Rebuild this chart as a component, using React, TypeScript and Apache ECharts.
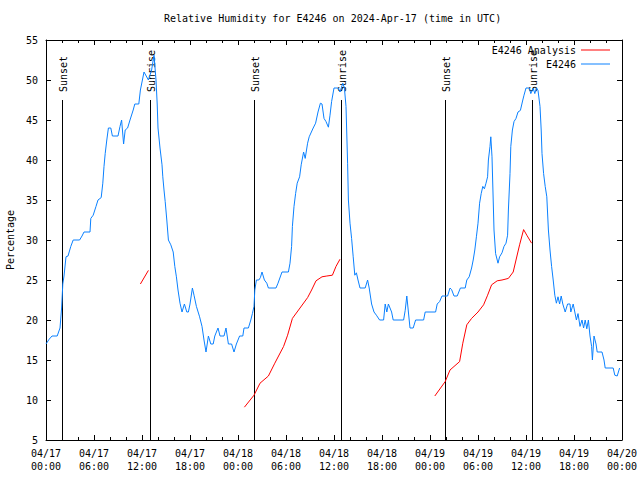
import React, { useEffect, useRef } from 'react';
import * as echarts from 'echarts';

// Hours since 04/17 00:00 UTC
const blueHours = [0, 0.4, 0.75, 1.4, 1.75, 1.95, 2.1, 2.25, 2.5, 2.75, 3.1, 3.4, 4.2, 4.5, 4.75, 5.5, 5.6, 5.9, 6.25, 6.5, 6.9, 7.1, 7.25, 7.4, 7.6, 7.8, 8.1, 8.3, 9.0, 9.25, 9.45, 9.7, 9.9, 10.2, 10.5, 10.9, 11.1, 11.6, 11.8, 12.25, 12.8, 13.2, 13.5, 13.75, 13.9, 14.0, 14.25, 14.5, 14.6, 14.75, 14.9, 15.1, 15.3, 15.6, 15.9, 16.1, 16.3, 16.5, 16.75, 17.0, 17.3, 17.6, 17.8, 18.0, 18.3, 18.5, 18.8, 19.2, 19.5, 19.75, 20.0, 20.3, 20.6, 20.9, 21.1, 21.5, 21.75, 22.25, 22.5, 22.8, 23.2, 23.5, 23.8, 24.2, 24.6, 24.75, 25.3, 25.6, 25.8, 26.0, 26.1, 26.3, 26.6, 26.8, 27.0, 27.3, 27.6, 27.8, 28.75, 29.0, 29.5, 30.3, 30.5, 30.7, 30.8, 31.0, 31.2, 31.4, 31.7, 31.9, 32.2, 32.4, 32.7, 32.9, 33.4, 33.7, 34.0, 34.3, 34.5, 34.75, 35.0, 35.3, 35.5, 35.7, 36.0, 36.5, 36.75, 37.1, 37.3, 37.5, 37.7, 37.8, 38.0, 38.2, 38.4, 38.6, 38.8, 39.0, 39.25, 39.9, 40.2, 40.4, 40.7, 41.0, 41.3, 41.7, 42.2, 42.4, 42.6, 42.8, 43.2, 43.4, 44.7, 44.9, 45.1, 45.3, 45.5, 45.9, 46.2, 47.2, 47.4, 48.7, 48.9, 49.2, 49.5, 50.2, 50.5, 50.7, 51.0, 51.4, 51.8, 52.4, 52.6, 52.9, 53.2, 53.4, 53.6, 53.8, 54.0, 54.2, 54.4, 54.6, 54.8, 55.0, 55.2, 55.3, 55.5, 55.6, 55.75, 55.9, 56.0, 56.2, 56.5, 56.7, 57.0, 57.25, 57.5, 57.7, 57.8, 58.0, 58.1, 58.3, 58.5, 58.75, 59.0, 59.3, 59.6, 59.75, 60.0, 60.4, 60.6, 60.9, 61.1, 61.3, 61.5, 61.75, 61.9, 62.0, 62.2, 62.4, 62.6, 62.8, 63.0, 63.2, 63.4, 63.6, 63.8, 64.0, 64.2, 64.4, 64.6, 64.9, 65.2, 65.5, 65.6, 65.9, 66.1, 66.3, 66.5, 66.75, 67.0, 67.2, 67.4, 67.6, 67.8, 68.0, 68.2, 68.3, 68.5, 68.75, 68.9, 69.5, 69.75, 69.9, 70.9, 71.1, 71.4, 71.7];
const blueValues = [17, 17.6, 18, 18, 19, 21.5, 24.5, 25.5, 27.9, 28, 29.2, 30, 30, 30.5, 31, 31, 32.7, 33.1, 34.2, 35, 35.3, 37.1, 39.2, 40.8, 42.5, 44, 44, 43, 43, 44.2, 45, 42, 43.75, 44, 45, 46.25, 47, 47, 48.75, 51, 50, 51.25, 53.1, 50, 47, 44, 41.5, 39.4, 37.9, 36.25, 34.8, 32.5, 30, 29.4, 28.5, 26.7, 25.4, 23.75, 22.1, 21, 22, 21, 21, 22, 24, 23.1, 21.7, 20.4, 19.2, 17.5, 16, 18, 17, 17, 18, 19, 18, 18, 19, 17, 17, 16, 17, 18, 18, 19, 19, 20, 20.8, 21.7, 23.75, 25, 25, 25.3, 26, 25, 24.6, 24, 24, 24.6, 26, 26, 27.1, 29.2, 31.7, 34.2, 35.8, 37.1, 37.9, 39.4, 41, 40.2, 42.1, 42.9, 44, 44.6, 46, 47.1, 47, 45.2, 44.8, 44.1, 45.6, 47.3, 49, 49, 48.5, 49.6, 49, 46.7, 39.6, 35, 32.1, 30.2, 27.9, 25.6, 25.9, 25, 24, 24, 25, 24, 22, 21, 20.6, 20, 20, 22, 21, 22, 21, 20, 20, 21.2, 23, 21, 19, 19, 20, 20, 21, 21, 22, 22.3, 23, 23, 24, 23.8, 23, 23, 24, 24, 25, 25.4, 26.5, 27.5, 28.75, 30.4, 32.1, 34.6, 35.8, 36.7, 36.4, 37.1, 37.9, 40, 41.7, 42.9, 40.4, 35, 31.25, 28.3, 27.1, 27.9, 28.4, 29.2, 29.6, 30.6, 33.75, 38.3, 41.7, 43.75, 44.8, 45.2, 46, 46.2, 47.5, 48.1, 49, 49, 48.3, 49, 48.3, 49, 48.7, 46.7, 43.75, 40.8, 38.3, 36.7, 35.4, 31.25, 28.75, 26.7, 25, 23.1, 22.1, 22.9, 22, 23, 22, 21, 22, 22, 21, 22, 21, 20, 20.8, 19.2, 20, 19, 20, 18.9, 20, 18, 16.7, 15, 18, 17, 16, 16, 15, 14, 14, 13.1, 13, 14];

const analysis1Hours = [11.8, 12.8];
const analysis1Values = [24.5, 26.2];
const analysis2Hours = [24.8, 26.0, 26.75, 27.8, 28.6, 29.7, 30.2, 30.8, 31.75, 32.7, 33.2, 33.75, 34.5, 35.1, 35.8, 36.25, 36.75];
const analysis2Values = [9.1, 10.6, 12.1, 13, 14.6, 16.7, 18.1, 20.2, 21.5, 22.8, 23.75, 24.9, 25.4, 25.5, 25.6, 26.7, 27.6];
const analysis3Hours = [48.6, 49.9, 50.5, 51.7, 52.1, 52.6, 53.2, 54.0, 54.7, 55.2, 55.7, 56.4, 57.0, 57.8, 58.4, 58.75, 59.2, 59.7, 60.1, 60.7];
const analysis3Values = [10.5, 12.3, 13.75, 14.8, 17.1, 19.4, 20.2, 21, 21.9, 23.1, 24.4, 24.9, 25, 25.2, 26, 27.5, 29.4, 31.3, 30.6, 29.6];

const sunHours = [2.0, 13.06, 26.04, 36.9, 49.9, 60.8];
const sunLabels = ['Sunset', 'Sunrise', 'Sunset', 'Sunrise', 'Sunset', 'Sunrise'];
const sunMarkerTop = 47.5;

const TITLE = 'Relative Humidity for E4246 on 2024-Apr-17 (time in UTC)';
const FONT = 'DejaVu Sans Mono';
const BLUE = '#0a80ff';
const RED = '#ff0000';

const pairs = (xs: number[], ys: number[]) => xs.map((x, i) => [x, ys[i]]);

function xLabel(h: number): string {
  const day = 17 + Math.floor(h / 24);
  const hh = Math.round(h % 24);
  return `04/${String(day).padStart(2, '0')}\n${String(hh).padStart(2, '0')}:00`;
}

const axisCommonX = {
  type: 'value' as const,
  min: 0,
  max: 72,
  interval: 6,
  axisLine: { show: true, onZero: false, lineStyle: { color: '#000', width: 1 } },
  axisTick: { show: true, inside: true, length: 5, lineStyle: { color: '#000' } },
  minorTick: { show: true, splitNumber: 3, length: 3, lineStyle: { color: '#000' } },
  splitLine: { show: false },
  minorSplitLine: { show: false },
};

const axisCommonY = {
  type: 'value' as const,
  min: 5,
  max: 55,
  interval: 5,
  axisLine: { show: true, onZero: false, lineStyle: { color: '#000', width: 1 } },
  axisTick: { show: true, inside: true, length: 5, lineStyle: { color: '#000' } },
  splitLine: { show: false },
};

export default function App() {
  const ref = useRef<HTMLDivElement>(null);
  useEffect(() => {
    if (!ref.current) return;
    const chart = echarts.init(ref.current, undefined, { renderer: 'svg' });
    const textStyle = { fontFamily: FONT, fontSize: 10, color: '#000' };
    const analysisSeries = [
      pairs(analysis1Hours, analysis1Values),
      pairs(analysis2Hours, analysis2Values),
      pairs(analysis3Hours, analysis3Values),
    ].map((d) => ({
      type: 'line',
      name: 'E4246 Analysis',
      data: d,
      showSymbol: false,
      symbol: 'none',
      lineStyle: { color: RED, width: 1 },
      itemStyle: { color: RED },
      z: 3,
    }));
    chart.setOption({
      animation: false,
      backgroundColor: '#fff',
      title: {
        text: TITLE,
        left: 164,
        top: 13,
        padding: 0,
        textStyle: { ...textStyle, fontWeight: 'normal' },
      },
      legend: {
        orient: 'vertical',
        align: 'right',
        right: 30,
        top: 44,
        padding: 0,
        itemWidth: 29,
        itemHeight: 1,
        itemGap: 2,
        textStyle: { ...textStyle, lineHeight: 12 },
        data: [
          { name: 'E4246 Analysis', icon: 'rect' },
          { name: 'E4246', icon: 'rect' },
        ],
      },
      grid: { left: 46, right: 18, top: 40, bottom: 40, outerBoundsMode: 'none', containLabel: false },
      xAxis: [
        {
          ...axisCommonX,
          position: 'bottom',
          axisLabel: { ...textStyle, formatter: xLabel, lineHeight: 13, margin: 7 },
        },
        {
          ...axisCommonX,
          position: 'top',
          axisLabel: { show: false },
        },
      ],
      yAxis: [
        {
          ...axisCommonY,
          position: 'left',
          name: 'Percentage',
          nameLocation: 'middle',
          nameGap: 30,
          nameTextStyle: textStyle,
          axisLabel: { ...textStyle, margin: 8 },
        },
        {
          ...axisCommonY,
          position: 'right',
          axisLabel: { show: false },
        },
      ],
      series: [
        {
          type: 'custom',
          name: 'sun',
          silent: true,
          clip: false,
          z: 1,
          data: sunHours.map((h) => [h, sunMarkerTop]),
          renderItem: (params: any, api: any) => {
            const t = api.value(0);
            const top = api.coord([t, api.value(1)]);
            const bottom = api.coord([t, 5]);
            const x = Math.round(top[0]) + 0.5;
            return {
              type: 'group',
              children: [
                {
                  type: 'line',
                  shape: { x1: x, y1: bottom[1], x2: x, y2: top[1] },
                  style: { stroke: '#000', lineWidth: 1 },
                },
                {
                  type: 'text',
                  x: x + 1,
                  y: top[1] - 8,
                  rotation: Math.PI / 2,
                  style: {
                    text: sunLabels[params.dataIndex],
                    fill: '#000',
                    font: `10px ${FONT}`,
                    align: 'left',
                    verticalAlign: 'middle',
                  },
                },
              ],
            };
          },
        },
        ...analysisSeries,
        {
          type: 'line',
          name: 'E4246',
          data: pairs(blueHours, blueValues),
          showSymbol: false,
          symbol: 'none',
          lineStyle: { color: BLUE, width: 1 },
          itemStyle: { color: BLUE },
          z: 4,
        },
      ],
    });
    return () => chart.dispose();
  }, []);
  return (
    <div
      ref={ref}
      style={{ position: 'fixed', left: 0, top: 0, width: 640, height: 480, background: '#fff' }}
    />
  );
}
